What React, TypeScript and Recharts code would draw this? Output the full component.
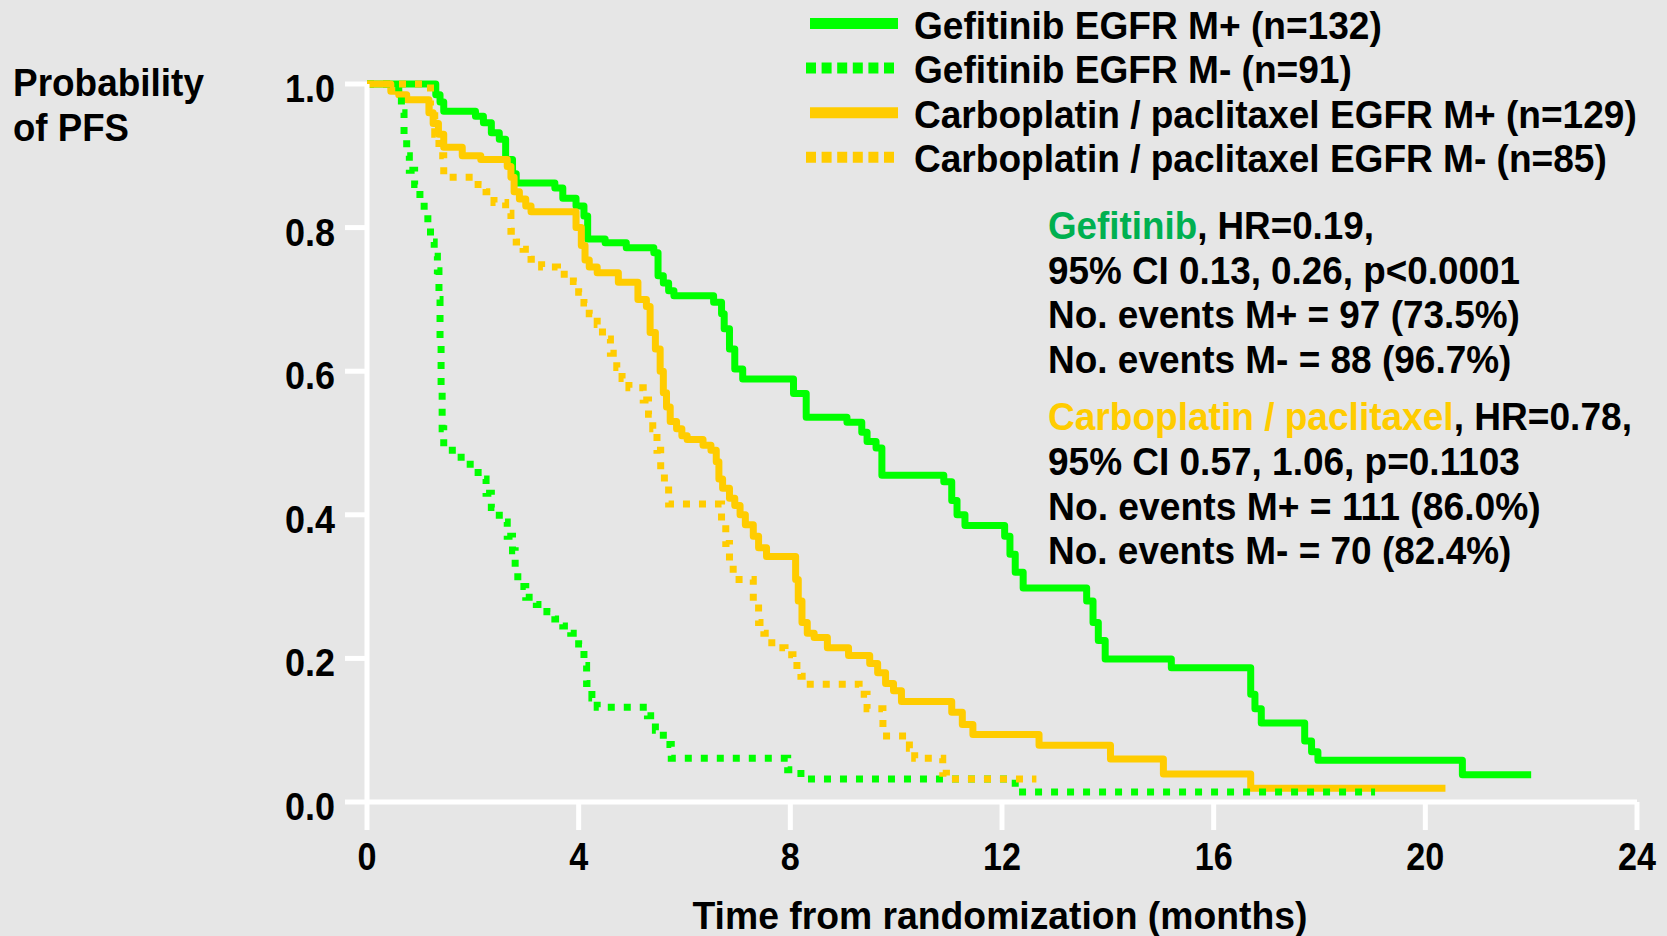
import React from "react";
import { LineChart, Line, XAxis, YAxis } from "recharts";

// ---------- data (time in months, probability of PFS; step-after) ----------
const gefPosT = [0, 1.3, 1.38, 1.45, 2.05, 2.2, 2.35, 2.5, 2.62, 2.75, 2.82, 3.55, 3.7, 3.95, 4.1, 4.17, 4.5, 4.9, 5.42, 5.5, 5.6, 5.7, 5.8, 6.55, 6.7, 6.75, 6.85, 6.95, 7.1, 8.06, 8.3, 9.07, 9.35, 9.45, 9.62, 9.73, 10.9, 11.05, 11.15, 11.3, 12.05, 12.15, 12.25, 12.4, 13.6, 13.72, 13.82, 13.95, 15.2, 16.7, 16.78, 16.9, 17.72, 17.85, 17.97, 20.7, 22.0];
const gefPosS = [1, 0.985, 0.975, 0.962, 0.955, 0.946, 0.932, 0.923, 0.895, 0.875, 0.862, 0.855, 0.841, 0.83, 0.816, 0.784, 0.779, 0.772, 0.765, 0.733, 0.723, 0.712, 0.705, 0.696, 0.68, 0.659, 0.631, 0.603, 0.589, 0.569, 0.536, 0.529, 0.515, 0.502, 0.493, 0.455, 0.446, 0.42, 0.4, 0.385, 0.37, 0.345, 0.32, 0.298, 0.28, 0.25, 0.225, 0.199, 0.187, 0.15, 0.13, 0.11, 0.085, 0.07, 0.058, 0.038, 0.038];

const gefNegT = [0, 0.6, 0.65, 0.7, 0.75, 0.8, 0.9, 1.0, 1.08, 1.15, 1.2, 1.27, 1.33, 1.36, 1.38, 1.4, 1.42, 1.45, 1.7, 1.95, 2.1, 2.25, 2.35, 2.5, 2.65, 2.75, 2.8, 2.85, 3.0, 3.2, 3.4, 3.55, 3.7, 3.85, 4.0, 4.1, 4.15, 4.25, 4.35, 5.3, 5.45, 5.6, 5.75, 7.95, 8.2, 12.25, 19.05];
const gefNegS = [1, 0.985, 0.96, 0.93, 0.9, 0.88, 0.86, 0.84, 0.82, 0.8, 0.78, 0.76, 0.74, 0.7, 0.64, 0.58, 0.52, 0.49, 0.48, 0.465, 0.45, 0.43, 0.41, 0.39, 0.37, 0.35, 0.32, 0.3, 0.285, 0.275, 0.265, 0.255, 0.245, 0.235, 0.22, 0.19, 0.165, 0.145, 0.132, 0.12, 0.1, 0.08, 0.061, 0.045, 0.032, 0.014, 0.014];

const carbPosT = [0, 0.45, 0.6, 0.75, 1.17, 1.25, 1.35, 1.45, 1.8, 2.15, 2.65, 2.72, 2.78, 2.88, 3.0, 3.1, 3.95, 4.05, 4.12, 4.2, 4.35, 4.75, 5.12, 5.28, 5.35, 5.45, 5.54, 5.6, 5.66, 5.73, 5.85, 5.95, 6.05, 6.35, 6.5, 6.6, 6.65, 6.72, 6.85, 6.95, 7.05, 7.15, 7.3, 7.4, 7.55, 8.1, 8.15, 8.22, 8.32, 8.45, 8.7, 9.1, 9.5, 9.65, 9.8, 9.95, 10.1, 11.05, 11.25, 11.45, 12.7, 14.05, 15.05, 16.7, 20.38];
const carbPosS = [1, 0.99, 0.985, 0.978, 0.96, 0.945, 0.93, 0.912, 0.9, 0.895, 0.885, 0.87, 0.85, 0.84, 0.83, 0.822, 0.8, 0.775, 0.755, 0.745, 0.737, 0.724, 0.7, 0.69, 0.654, 0.631, 0.6, 0.57, 0.55, 0.53, 0.52, 0.51, 0.505, 0.497, 0.49, 0.474, 0.45, 0.437, 0.423, 0.413, 0.4, 0.386, 0.37, 0.354, 0.342, 0.31, 0.28, 0.25, 0.235, 0.229, 0.215, 0.204, 0.193, 0.18, 0.165, 0.155, 0.14, 0.125, 0.108, 0.094, 0.079, 0.06, 0.039, 0.019, 0.019];

const carbNegT = [0, 1.2, 1.28, 1.36, 1.45, 2.1, 2.25, 2.4, 2.62, 2.72, 2.82, 2.95, 3.1, 3.3, 3.6, 3.9, 4.0, 4.1, 4.2, 4.35, 4.45, 4.6, 4.72, 4.82, 4.95, 5.22, 5.32, 5.4, 5.48, 5.55, 5.62, 5.7, 6.7, 6.78, 6.85, 6.92, 7.3, 7.4, 7.5, 7.65, 7.9, 8.05, 8.2, 8.3, 9.3, 9.45, 9.75, 10.25, 10.35, 10.88, 10.95, 12.65];
const carbNegS = [1, 0.97, 0.93, 0.9, 0.87, 0.86, 0.85, 0.835, 0.82, 0.795, 0.78, 0.77, 0.756, 0.745, 0.735, 0.725, 0.71, 0.695, 0.68, 0.665, 0.645, 0.625, 0.605, 0.59, 0.577, 0.56, 0.54, 0.52, 0.49, 0.46, 0.44, 0.415, 0.39, 0.36, 0.33, 0.31, 0.28, 0.25, 0.235, 0.215, 0.205, 0.19, 0.175, 0.164, 0.15, 0.13, 0.092, 0.075, 0.061, 0.04, 0.032, 0.032];

const xTicks = [0, 4, 8, 12, 16, 20, 24];
const yTicks = [0, 0.2, 0.4, 0.6, 0.8, 1.0];

const legendLabels = [
  "Gefitinib EGFR M+ (n=132)",
  "Gefitinib EGFR M- (n=91)",
  "Carboplatin / paclitaxel EGFR M+ (n=129)",
  "Carboplatin / paclitaxel EGFR M- (n=85)",
];
const gefStats = ["95% CI 0.13, 0.26, p<0.0001", "No. events M+ = 97 (73.5%)", "No. events M- = 88 (96.7%)"];
const carbStats = ["95% CI 0.57, 1.06, p=0.1103", "No. events M+ = 111 (86.0%)", "No. events M- = 70 (82.4%)"];

const build = (ts: number[], ss: number[]) => ts.map((t, i) => ({ t, s: ss[i] }));
const gefPos = build(gefPosT, gefPosS);
const gefNeg = build(gefNegT, gefNegS);
const carbPos = build(carbPosT, carbPosS);
const carbNeg = build(carbNegT, carbNegS);

// ---------- styling ----------
const GREEN = "#00ff00";
const ORANGE = "#ffcc00";
const DARKGREEN = "#00b050";
const BG = "#e6e6e6";
const FONT = "'Liberation Sans', Arial, sans-serif";
const FS = 39;

let ctx: CanvasRenderingContext2D | null = null;
const measure = (s: string): number => {
  if (!ctx && typeof document !== "undefined") {
    ctx = document.createElement("canvas").getContext("2d");
  }
  if (!ctx) return s.length * FS * 0.58;
  ctx.font = `bold ${FS}px 'Liberation Sans', Arial, sans-serif`;
  return ctx.measureText(s).width;
};

// Text horizontally condensed to a target width (the original uses a narrow bold face)
type Part = { text: string; color?: string };
const ST = ({ x, y, width, anchor = "start", parts }: { x: number; y: number; width: number; anchor?: string; parts: Part[] }) => {
  const full = parts.map((p) => p.text).join("");
  const natural = measure(full);
  const sx = width / natural;
  let off = anchor === "end" ? -natural : anchor === "middle" ? -natural / 2 : 0;
  const nodes = parts.map((p, i) => {
    const w = measure(p.text);
    const node = (
      <text key={i} x={off} y={0} fontFamily={FONT} fontWeight="bold" fontSize={FS} fill={p.color || "#000"} style={{ whiteSpace: "pre" }}>
        {p.text}
      </text>
    );
    off += w;
    return node;
  });
  return <g transform={`translate(${x},${y}) scale(${sx},1)`}>{nodes}</g>;
};

const YTick = (props: any) => {
  const { x, y, payload } = props;
  return <ST x={x} y={y + 18} width={50} anchor="end" parts={[{ text: Number(payload.value).toFixed(1) }]} />;
};

const XTick = (props: any) => {
  const { x, y, payload } = props;
  const s = String(payload.value);
  return <ST x={x} y={y + 38} width={s.length * 19} anchor="middle" parts={[{ text: s }]} />;
};

export default function App() {
  const legendY = [23.5, 68, 112.7, 157.3];
  const legendW = [468, 438, 723, 693];
  const gefW = [472, 472, 463.5];
  const carbW = [472, 493, 463.5];
  return (
    <div style={{ position: "absolute", left: 0, top: 0, width: 1667, height: 936, background: BG, overflow: "hidden" }}>
      <div style={{ position: "absolute", left: 0, top: 0 }}>
        <LineChart width={1667} height={936} margin={{ top: 84, right: 30, bottom: 74, left: 267 }}>
          <XAxis
            type="number"
            dataKey="t"
            domain={[0, 24]}
            ticks={xTicks}
            interval={0}
            height={60}
            axisLine={{ stroke: "#fff", strokeWidth: 5 }}
            tickLine={{ stroke: "#fff", strokeWidth: 5 }}
            tickSize={28}
            tick={<XTick />}
            allowDataOverflow
          />
          <YAxis
            type="number"
            dataKey="s"
            domain={[0, 1]}
            ticks={yTicks}
            interval={0}
            width={100}
            axisLine={{ stroke: "#fff", strokeWidth: 5 }}
            tickLine={{ stroke: "#fff", strokeWidth: 5 }}
            tickSize={22}
            tickMargin={10}
            tick={<YTick />}
          />
          <Line data={gefPos} dataKey="s" type="stepAfter" stroke={GREEN} strokeWidth={7} dot={false} isAnimationActive={false} strokeLinejoin="round" />
          <Line data={carbPos} dataKey="s" type="stepAfter" stroke={ORANGE} strokeWidth={7} dot={false} isAnimationActive={false} strokeLinejoin="round" />
          <Line data={gefNeg} dataKey="s" type="stepAfter" stroke={GREEN} strokeWidth={7} strokeDasharray="7 9" dot={false} isAnimationActive={false} />
          <Line data={carbNeg} dataKey="s" type="stepAfter" stroke={ORANGE} strokeWidth={7} strokeDasharray="7 9" dot={false} isAnimationActive={false} />
        </LineChart>
      </div>
      <svg width={1667} height={936} style={{ position: "absolute", left: 0, top: 0, pointerEvents: "none" }}>
        {/* y-axis title */}
        <ST x={13} y={96} width={191} parts={[{ text: "Probability" }]} />
        <ST x={13} y={141} width={116} parts={[{ text: "of PFS" }]} />
        {/* x-axis title */}
        <ST x={1000} y={929} width={615} anchor="middle" parts={[{ text: "Time from randomization (months)" }]} />
        {/* legend */}
        {legendLabels.map((lab, i) => {
          const color = i < 2 ? GREEN : ORANGE;
          const dotted = i % 2 === 1;
          return (
            <g key={lab}>
              <line x1={dotted ? 806 : 810} x2={dotted ? 894 : 898} y1={legendY[i]} y2={legendY[i]} stroke={color} strokeWidth={11}
                strokeDasharray={dotted ? "10 5.6" : undefined} />
              <ST x={914} y={legendY[i] + 15} width={legendW[i]} parts={[{ text: lab }]} />
            </g>
          );
        })}
        {/* Gefitinib statistics */}
        <ST x={1048} y={239} width={326} parts={[{ text: "Gefitinib", color: DARKGREEN }, { text: ", HR=0.19," }]} />
        {gefStats.map((s, i) => (
          <ST key={s} x={1048} y={283.6 + i * 44.6} width={gefW[i]} parts={[{ text: s }]} />
        ))}
        {/* Carboplatin statistics */}
        <ST x={1048} y={430.3} width={584} parts={[{ text: "Carboplatin / paclitaxel", color: ORANGE }, { text: ", HR=0.78," }]} />
        {carbStats.map((s, i) => (
          <ST key={s} x={1048} y={475 + i * 44.6} width={carbW[i]} parts={[{ text: s }]} />
        ))}
      </svg>
    </div>
  );
}
